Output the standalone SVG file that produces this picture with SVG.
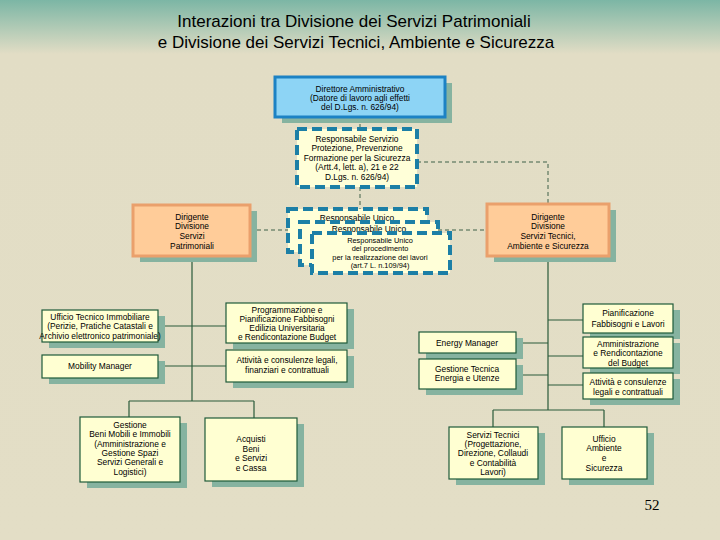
<svg xmlns="http://www.w3.org/2000/svg" width="720" height="540" viewBox="0 0 720 540">
<defs>
<linearGradient id="bg" x1="0" y1="0" x2="0" y2="1">
<stop offset="0" stop-color="#7cb6a5"/>
<stop offset="0.1" stop-color="#e2ddc5"/>
<stop offset="1" stop-color="#e3dec6"/>
</linearGradient>
</defs>
<style>
text{font-family:"Liberation Sans",Arial,sans-serif;fill:#000}
.t{font-size:17px;text-anchor:middle}
.s{font-size:8.4px;text-anchor:middle}
.s2{font-size:7.4px;text-anchor:middle}
.sh{fill:#86b3a0}
.y{fill:#ffffd2;stroke:#1f5a3a;stroke-width:1.2}
.p{fill:#ffcc99;stroke:#eaa06c;stroke-width:3}
.b{fill:#8dd4f5;stroke:#1c82c4;stroke-width:3}
.d{fill:#ffffd8;stroke:#1c7fa6;stroke-width:4;stroke-dasharray:10 5}
.c{fill:none;stroke:#2a5a3a;stroke-width:1.2}
.cd{fill:none;stroke:#3e6048;stroke-width:1;stroke-dasharray:4 3}
</style>
<rect width="720" height="540" fill="url(#bg)"/>
<text class="t" x="354" y="27">Interazioni tra Divisione dei Servizi Patrimoniali</text>
<text class="t" x="356" y="48">e Divisione dei Servizi Tecnici, Ambiente e Sicurezza</text>
<g id="connectors">
<path class="cd" d="M360,117V129M360,187V209M417,162H548V204M250,230H288M438,230H487"/>
<path class="c" d="M192,256V401M129,401H254M129,401V417M254,401V418M158,326H226M158,366H226"/>
<path class="c" d="M548,256V410M493,410H604M493,410V427M604,410V427M548,320H583M548,356H583M548,385H583M516,343H548M516,375H548M468,353V359"/>
</g>
<g id="direttore">
<rect class="sh" x="282" y="83" width="170" height="40"/>
<rect class="b" x="275" y="77" width="170" height="40"/>
<text class="s" x="360" y="92">Direttore Amministrativo</text>
<text class="s" x="360" y="101">(Datore di lavoro agli effetti</text>
<text class="s" x="360" y="110">del D.Lgs. n. 626/94)</text>
</g>
<g id="rspp">
<rect class="d" x="297" y="129" width="120" height="58"/>
<text class="s" x="357" y="142">Responsabile Servizio</text>
<text class="s" x="357" y="151">Protezione, Prevenzione</text>
<text class="s" x="357" y="161">Formazione per la Sicurezza</text>
<text class="s" x="357" y="170">(Artt.4, lett. a), 21 e 22</text>
<text class="s" x="357" y="180">D.Lgs. n. 626/94)</text>
</g>
<g id="rup">
<rect class="d" x="288" y="209" width="139" height="43"/>
<text class="s" x="357" y="221">Responsabile Unico</text>
<rect class="d" x="300" y="222" width="138" height="43"/>
<text class="s" x="369" y="232">Responsabile Unico</text>
<rect class="d" x="312" y="233" width="138" height="40"/>
<text class="s2" x="380" y="243">Responsabile Unico</text>
<text class="s2" x="380" y="251.3">del procedimento</text>
<text class="s2" x="380" y="259.6">per la realizzazione dei lavori</text>
<text class="s2" x="380" y="268">(art.7 L. n.109/94)</text>
</g>
<g id="dir-patrimoniali">
<rect class="sh" x="140" y="211" width="117" height="51"/>
<rect class="p" x="133" y="205" width="117" height="51"/>
<text class="s" x="192" y="220">Dirigente</text>
<text class="s" x="192" y="229">Divisione</text>
<text class="s" x="192" y="239">Servizi</text>
<text class="s" x="192" y="249">Patrimoniali</text>
</g>
<g id="dir-tecnici">
<rect class="sh" x="494" y="210" width="122" height="52"/>
<rect class="p" x="487" y="204" width="122" height="52"/>
<text class="s" x="548" y="220">Dirigente</text>
<text class="s" x="548" y="229">Divisione</text>
<text class="s" x="548" y="239">Servizi Tecnici,</text>
<text class="s" x="548" y="249">Ambiente e Sicurezza</text>
</g>
<g id="ufficio-tecnico">
<rect class="sh" x="49" y="316" width="116" height="32"/>
<rect class="y" x="42" y="310" width="116" height="32"/>
<text class="s" x="100" y="320">Ufficio Tecnico Immobiliare</text>
<text class="s" x="100" y="329">(Perizie, Pratiche Catastali e</text>
<text class="s" x="100" y="339">Archivio elettronico patrimoniale)</text>
</g>
<g id="mobility">
<rect class="sh" x="49" y="361" width="116" height="23"/>
<rect class="y" x="42" y="355" width="116" height="23"/>
<text class="s" x="100" y="369">Mobility Manager</text>
</g>
<g id="programmazione">
<rect class="sh" x="233" y="309" width="121" height="40"/>
<rect class="y" x="226" y="303" width="121" height="40"/>
<text class="s" x="287" y="313">Programmazione e</text>
<text class="s" x="287" y="322">Pianificazione Fabbisogni</text>
<text class="s" x="287" y="331">Edilizia Universitaria</text>
<text class="s" x="287" y="340">e Rendicontazione Budget</text>
</g>
<g id="attivita-legali">
<rect class="sh" x="233" y="356" width="121" height="32"/>
<rect class="y" x="226" y="350" width="121" height="32"/>
<text class="s" x="287" y="363">Attività e consulenze legali,</text>
<text class="s" x="287" y="373">finanziari e contrattuali</text>
</g>
<g id="gestione-beni">
<rect class="sh" x="87" y="423" width="100" height="65"/>
<rect class="y" x="80" y="417" width="100" height="65"/>
<text class="s" x="130" y="428">Gestione</text>
<text class="s" x="130" y="437">Beni Mobili e Immobili</text>
<text class="s" x="130" y="447">(Amministrazione e</text>
<text class="s" x="130" y="456">Gestione Spazi</text>
<text class="s" x="130" y="465">Servizi Generali e</text>
<text class="s" x="130" y="475">Logistici)</text>
</g>
<g id="acquisti">
<rect class="sh" x="212" y="424" width="92" height="63"/>
<rect class="y" x="205" y="418" width="92" height="63"/>
<text class="s" x="251" y="442">Acquisti</text>
<text class="s" x="251" y="452">Beni</text>
<text class="s" x="251" y="461">e Servizi</text>
<text class="s" x="251" y="471">e Cassa</text>
</g>
<g id="energy-manager">
<rect class="sh" x="426" y="338" width="97" height="21"/>
<rect class="y" x="419" y="332" width="97" height="21"/>
<text class="s" x="467" y="346">Energy Manager</text>
</g>
<g id="gestione-tecnica">
<rect class="sh" x="426" y="365" width="97" height="30"/>
<rect class="y" x="419" y="359" width="97" height="30"/>
<text class="s" x="467" y="372">Gestione Tecnica</text>
<text class="s" x="467" y="381">Energia e Utenze</text>
</g>
<g id="pianificazione">
<rect class="sh" x="590" y="310" width="90" height="29"/>
<rect class="y" x="583" y="304" width="90" height="29"/>
<text class="s" x="628" y="316">Pianificazione</text>
<text class="s" x="628" y="327">Fabbisogni  e Lavori</text>
</g>
<g id="amministrazione">
<rect class="sh" x="590" y="343" width="90" height="31"/>
<rect class="y" x="583" y="337" width="90" height="31"/>
<text class="s" x="628" y="347">Amministrazione</text>
<text class="s" x="628" y="356">e Rendicontazione</text>
<text class="s" x="628" y="366">del Budget</text>
</g>
<g id="attivita-contrattuali">
<rect class="sh" x="590" y="379" width="90" height="26"/>
<rect class="y" x="583" y="373" width="90" height="26"/>
<text class="s" x="628" y="385">Attività e consulenze</text>
<text class="s" x="628" y="395">legali e contrattuali</text>
</g>
<g id="servizi-tecnici">
<rect class="sh" x="456" y="433" width="89" height="52"/>
<rect class="y" x="449" y="427" width="89" height="52"/>
<text class="s" x="493" y="438">Servizi Tecnici</text>
<text class="s" x="493" y="447">(Progettazione,</text>
<text class="s" x="493" y="456">Direzione, Collaudi</text>
<text class="s" x="493" y="466">e Contabilità</text>
<text class="s" x="493" y="475">Lavori)</text>
</g>
<g id="ufficio-ambiente">
<rect class="sh" x="569" y="433" width="85" height="52"/>
<rect class="y" x="562" y="427" width="85" height="52"/>
<text class="s" x="604" y="442">Ufficio</text>
<text class="s" x="604" y="451">Ambiente</text>
<text class="s" x="604" y="461">e</text>
<text class="s" x="604" y="471">Sicurezza</text>
</g>
<text x="652" y="510" style="font-family:'Liberation Serif','Times New Roman',serif;font-size:15px;text-anchor:middle">52</text>
</svg>
